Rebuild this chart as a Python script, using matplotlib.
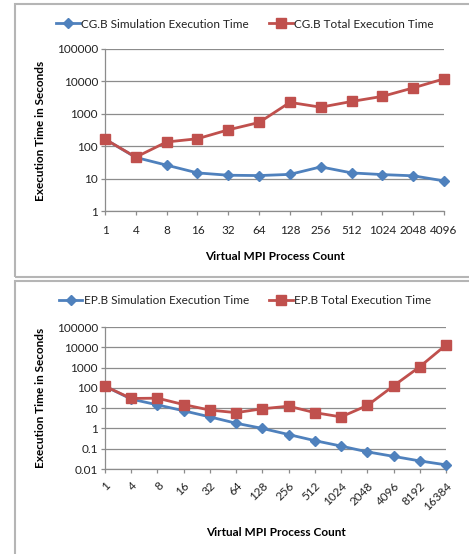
import matplotlib
matplotlib.use("Agg")
import matplotlib.pyplot as plt
from matplotlib.patches import Rectangle

plt.rcParams['font.family'] = ['Lato', 'DejaVu Sans']

# --- CG.B ---
cg_procs = ['1', '4', '8', '16', '32', '64', '128', '256', '512', '1024', '2048', '4096']
cg_sim = [165, 45, 26, 15, 12.7, 12.4, 13.5, 23, 15, 13.3, 12.2, 8.5]
cg_total = [165, 46, 135, 170, 320, 540, 2250, 1600, 2400, 3450, 6300, 12000]

# --- EP.B ---
ep_procs = ['1', '4', '8', '16', '32', '64', '128', '256', '512', '1024',
            '2048', '4096', '8192', '16384']
ep_sim = [120, 28, 14.5, 7.4, 3.7, 1.8, 1.0, 0.5, 0.25, 0.135, 0.07, 0.042, 0.025, 0.016]
ep_total = [120, 30, 31, 15, 8, 6, 9.3, 12.5, 6, 3.7, 13.5, 125, 1100, 13000]

BLUE = '#4F81BD'
RED = '#C0504D'
GRID = '#8c8c8c'
W, H = 469, 554

fig = plt.figure(figsize=(W / 100, H / 100), dpi=100)


def px_axes(left, top, right, bottom):
    return fig.add_axes([left / W, 1 - bottom / H, (right - left) / W, (bottom - top) / H])


def style_axes(ax, labels, yticks, ylabels, rotate):
    ax.set_yscale('log')
    ax.set_ylim(yticks[0], yticks[-1])
    ax.set_yticks(yticks)
    ax.set_yticklabels(ylabels)
    ax.minorticks_off()
    ax.set_xlim(0, len(labels) - 1)
    ax.set_xticks(range(len(labels)))
    if rotate:
        ax.set_xticklabels(labels, rotation=45, ha='right', va='top', rotation_mode='anchor')
    else:
        ax.set_xticklabels(labels)
    for s in ['top', 'right']:
        ax.spines[s].set_visible(False)
    for s in ['left', 'bottom']:
        ax.spines[s].set_color(GRID)
        ax.spines[s].set_linewidth(0.9)
    ax.grid(axis='y', color=GRID, linewidth=0.9)
    ax.set_axisbelow(True)
    ax.tick_params(axis='y', length=3, width=0.9, color=GRID, pad=2, labelsize=8.5, labelcolor='#222222')
    ax.tick_params(axis='x', length=3, width=0.9, color=GRID, pad=7 if not rotate else 5,
                   labelsize=8.5, labelcolor='#222222')


def draw_series(ax, x_labels, sim, total, name):
    xs = range(len(x_labels))
    ax.plot(xs, sim, color=BLUE, linewidth=2, marker='D', markersize=5,
            label=name + ' Simulation Execution Time', clip_on=False, zorder=3)
    ax.plot(xs, total, color=RED, linewidth=2, marker='s', markersize=7,
            label=name + ' Total Execution Time', clip_on=False, zorder=4)


def add_legend(ax, y_px):
    ax.legend(loc='center', bbox_to_anchor=(0.522, 1 - y_px / H), bbox_transform=fig.transFigure,
              ncol=2, frameon=False, fontsize=8.5, handlelength=2.0, handletextpad=0.1,
              columnspacing=1.7, labelcolor='#222222')


# chart frames
for (y0, y1) in [(4, 277), (281, 560)]:
    fig.patches.append(Rectangle((15 / W, 1 - y1 / H), 1, (y1 - y0) / H,
                                 transform=fig.transFigure, fill=False,
                                 edgecolor='#b5b5b5', linewidth=1.5))

# top chart
ax1 = px_axes(105, 49, 444, 211)
draw_series(ax1, cg_procs, cg_sim, cg_total, 'CG.B')
style_axes(ax1, cg_procs, [1, 10, 100, 1000, 10000, 100000],
           ['1', '10', '100', '1000', '10000', '100000'], rotate=False)
add_legend(ax1, 24)
fig.text(40 / W, 1 - 131 / H, 'Execution Time in Seconds', rotation=90, ha='center',
         va='center', fontsize=8.5, fontweight='bold')
fig.text(275 / W, 1 - 256 / H, 'Virtual MPI Process Count', ha='center', va='center',
         fontsize=8.5, fontweight='bold')

# bottom chart
ax2 = px_axes(105, 327, 446, 469)
draw_series(ax2, ep_procs, ep_sim, ep_total, 'EP.B')
style_axes(ax2, ep_procs, [0.01, 0.1, 1, 10, 100, 1000, 10000, 100000],
           ['0.01', '0.1', '1', '10', '100', '1000', '10000', '100000'], rotate=True)
add_legend(ax2, 301)
fig.text(40 / W, 1 - 398 / H, 'Execution Time in Seconds', rotation=90, ha='center',
         va='center', fontsize=8.5, fontweight='bold')
fig.text(276 / W, 1 - 533 / H, 'Virtual MPI Process Count', ha='center', va='center',
         fontsize=8.5, fontweight='bold')

fig.savefig('out.png', dpi=100)
